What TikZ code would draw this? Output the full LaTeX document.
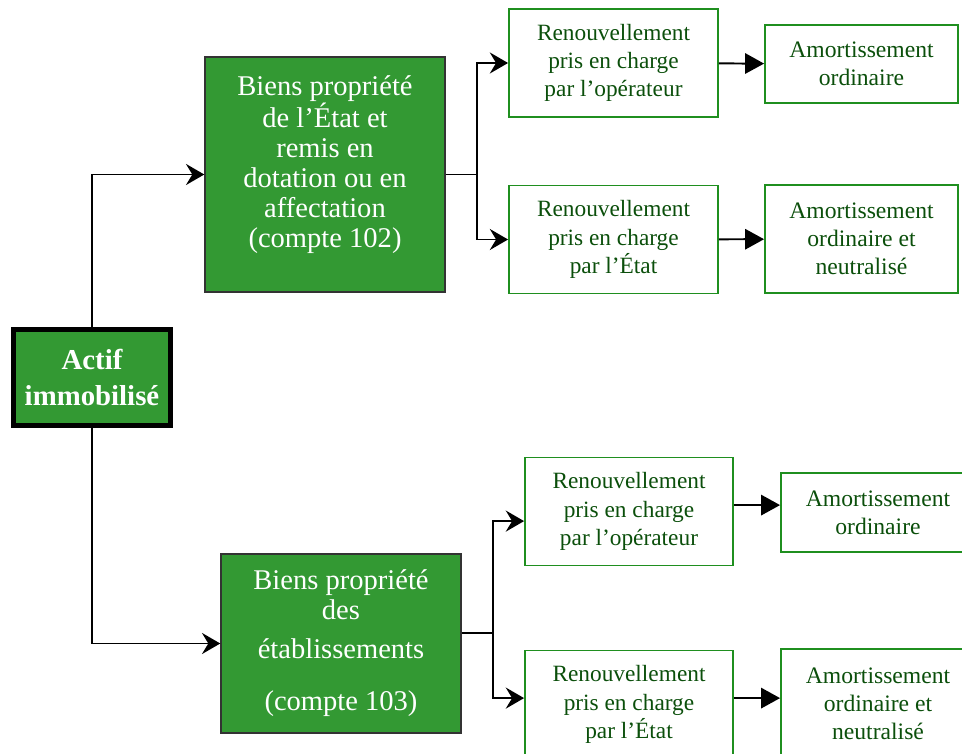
\documentclass[tikz,border=0pt]{standalone}
\usepackage{fontspec}
\setmainfont{Liberation Serif}
\usepackage{xcolor}
\usetikzlibrary{arrows.meta}

\definecolor{boxgreen}{HTML}{339933}
\definecolor{linegreen}{HTML}{1F8F1F}
\definecolor{textgreen}{HTML}{0B4F0B}

\begin{document}
\begin{tikzpicture}[x=0.025cm, y=-0.025cm,
  rootbox/.style={rectangle, draw=black, line width=3pt, fill=boxgreen, text=white,
    align=center, inner sep=0pt, font=\fontsize{20.5}{25}\selectfont\bfseries},
  groupbox/.style={rectangle, draw=black!80, line width=1pt, fill=boxgreen, text=white,
    align=center, inner sep=0pt, minimum width=6cm, font=\fontsize{20.3}{21.4}\selectfont},
  renewbox/.style={rectangle, draw=linegreen, line width=1.3pt, text=textgreen,
    align=center, inner sep=0pt, minimum height=2.7cm, font=\fontsize{16.6}{20}\selectfont},
  amortbox/.style={rectangle, draw=linegreen, line width=1.3pt, text=textgreen,
    align=center, inner sep=0pt, font=\fontsize{16.8}{20}\selectfont},
  link/.style={draw=black, line width=1.4pt},
  branch/.style={link, -{Stealth[length=13pt,width=15pt,inset=4.5pt]}},
  next/.style={link, -{Triangle[length=13.5pt,width=14.5pt]}}]
  \useasboundingbox (0,0) rectangle (962,754);
  \clip (0,0) rectangle (962,754);

  \node (act) [rootbox, minimum width=3.925cm, minimum height=2.4cm] at (92,377.5) {Actif\\immobilisé};

  \node (etat) [groupbox, minimum height=5.875cm] at (325,174.5)
    {Biens propriété\\de l’État et\\remis en\\dotation ou en\\affectation\\(compte 102)\\[-3pt]\mbox{}};
  \node (etab) [groupbox, minimum height=4.475cm] at (341,643.5)
    {Biens propriété\\des\\[6pt]établissements\\[16pt](compte 103)};

  \node (renopA) [renewbox, minimum width=5.225cm] at (613.5,63) {Renouvellement\\pris en charge\\par l’opérateur};
  \node (renetA) [renewbox, minimum width=5.225cm] at (613.5,239.5) {Renouvellement\\pris en charge\\par l’État};
  \node (renopB) [renewbox, minimum width=5.2cm] at (629,511.5) {Renouvellement\\pris en charge\\par l’opérateur};
  \node (renetB) [renewbox, minimum width=5.2cm] at (629,704.5) {Renouvellement\\pris en charge\\par l’État};

  \node (amoA) [amortbox, minimum width=4.825cm, minimum height=1.95cm] at (861.5,64) {Amortissement\\ordinaire};
  \node (amnA) [amortbox, minimum width=4.825cm, minimum height=2.7cm] at (861.5,239) {Amortissement\\ordinaire et\\neutralisé};
  \node (amoB) [amortbox, minimum width=4.85cm, minimum height=1.975cm] at (878,512.5) {Amortissement\\ordinaire};
  \node (amnB) [amortbox, minimum width=4.85cm, minimum height=2.725cm] at (878,703.5) {Amortissement\\ordinaire et\\neutralisé};

  \coordinate (splitA) at (477,174.5);
  \coordinate (splitB) at (493,633);

  \draw[branch] (act.north) |- (etat.west);
  \draw[branch] (act.south) |- (etab.west);

  \draw[link] (etat.east) -- (splitA);
  \draw[branch] (splitA) |- (renopA.west);
  \draw[branch] (splitA) |- (renetA.west);

  \draw[link] (etab.east |- splitB) -- (splitB);
  \draw[branch] (splitB) |- ([yshift=-0.24cm]renopB.west);
  \draw[branch] (splitB) |- ([yshift=0.16cm]renetB.west);

  \draw[next] (renopA) -- (amoA);
  \draw[next] (renetA) -- (amnA);
  \draw[next] ([yshift=0.16cm]renopB.east) -- ([yshift=0.16cm]renopB.east -| amoB.west);
  \draw[next] ([yshift=0.16cm]renetB.east) -- ([yshift=0.16cm]renetB.east -| amnB.west);
\end{tikzpicture}
\end{document}
